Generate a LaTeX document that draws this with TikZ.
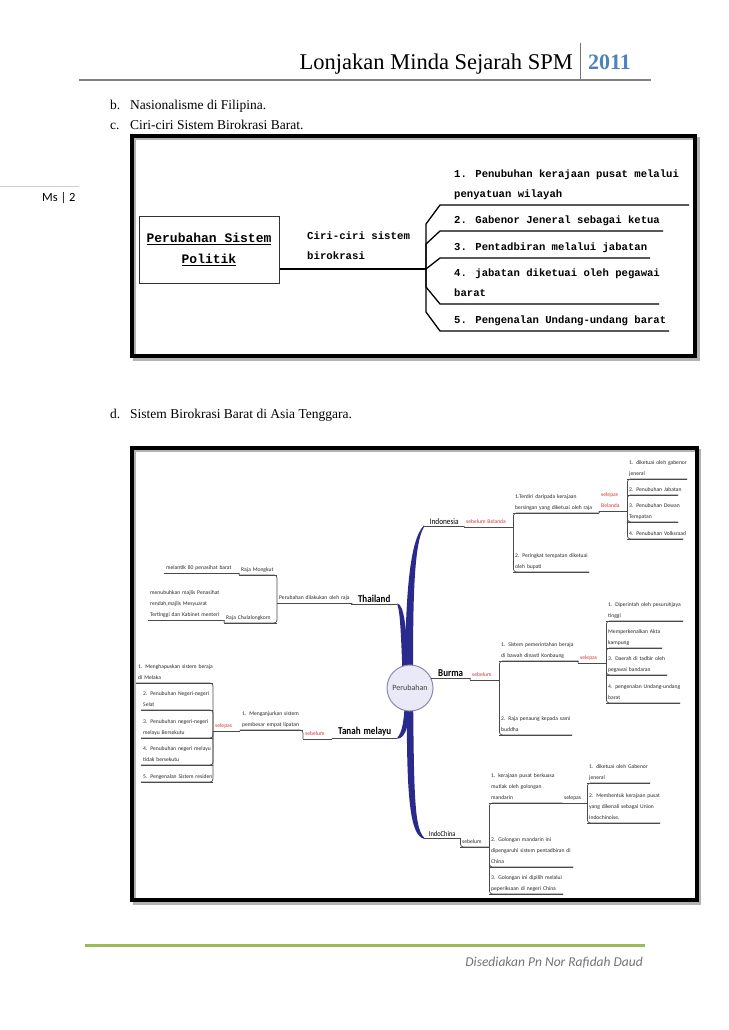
\documentclass[tikz,border=0pt]{standalone}
\usepackage{fontspec}
\setmainfont{Liberation Serif}
\newfontfamily\calfont{Carlito}
\newfontfamily\mymono{Liberation Mono}
\usetikzlibrary{calc}
\pgfdeclarelayer{bg}
\pgfsetlayers{bg,main}
\definecolor{navy}{HTML}{2A2A8C}
\definecolor{accent}{HTML}{4F81BD}
\definecolor{greenline}{HTML}{9BBB59}
\definecolor{mmred}{HTML}{D03A3A}
\definecolor{mmline}{HTML}{4A4A4A}
\definecolor{mmtext}{HTML}{2A2A2A}
\definecolor{circfill}{HTML}{E9E9F7}
\definecolor{circline}{HTML}{8A8AAE}
\newcommand\tl[1]{\noindent\begin{tabular}[b]{@{}l@{}}#1\end{tabular}}
\newcommand\tpc[1]{\noindent\scalebox{0.86}[1]{#1}}
\tikzset{
  x=1pt, y=-1pt,
  ul/.style={draw=mmline, line width=0.7pt},
  conn/.style={draw=mmline, line width=0.7pt, rounded corners=3pt},
  leaf/.style={anchor=south west, inner xsep=2pt, inner ysep=0pt, align=left,
    font=\calfont\fontsize{5.6}{11}\selectfont, text=mmtext,
    append after command={(\tikzlastnode.south west) edge[ul] (\tikzlastnode.south east)}},
  redtxt/.style={text=mmred},
  topicS/.style={leaf, align=center, text=black, inner ysep=1.5pt, font=\calfont\fontsize{8.5}{11}\selectfont},
  topicXS/.style={leaf, align=center, text=black, inner ysep=1.5pt, font=\calfont\fontsize{7.5}{11}\selectfont},
  topicB/.style={leaf, align=center, text=black, inner ysep=1.5pt, font=\calfont\bfseries\fontsize{10.5}{12}\selectfont},
  body/.style={anchor=base west, inner sep=0pt, font=\fontsize{13.5}{16}\selectfont},
  item/.style={anchor=base west, inner sep=0pt, font=\mymono\bfseries\fontsize{10.6}{20}\selectfont},
  fork/.style={draw=black, line width=1.3pt},
  frame/.style={draw=black, line width=3.5pt},
  shadow/.style={draw=black!30, line width=3pt},
}
\begin{document}
\begin{tikzpicture}
\begin{pgfonlayer}{bg}
\fill[white] (0,0) rectangle (728,1030);
\end{pgfonlayer}
\useasboundingbox (0,0) rectangle (728,1030);

% ---------- header ----------
\node[anchor=base east, inner sep=0pt, font=\fontsize{22.5}{26}\selectfont] (title) at (573,70) {Lonjakan Minda Sejarah SPM};
\node[anchor=base west, inner sep=0pt, font=\bfseries\fontsize{22}{26}\selectfont, text=accent] (year) at (588,70) {2011};
\draw[black!55, line width=1pt] (580,43) -- (580,79);
\draw[black!50, line width=2.5pt] (79,80) -- (651,80);

\node[body] (lb) at (110,110) {b.};
\node[body] (tb) at (130,110) {Nasionalisme di Filipina.};
\node[body] (lc) at (110,129) {c.};
\node[body] (tc) at (130,129) {Ciri-ciri Sistem Birokrasi Barat.};

% page number in margin
\draw[black!20, line width=0.8pt] (0,186) -- (79,186);
\node[anchor=base west, inner sep=0pt, font=\calfont\fontsize{12.5}{14}\selectfont] (pg) at (42,201) {Ms | 2};

% ---------- top diagram ----------
\draw[shadow] (134,138) rectangle (698,359);
\draw[frame] (132,136) rectangle (695,356);

\node[draw=black!80, line width=1pt, minimum width=140pt, minimum height=67pt, align=center, inner sep=0pt,
      font=\mymono\bfseries\fontsize{13}{21}\selectfont] (ps) at (209,249.5)
      {\underline{Perubahan Sistem}\\\underline{Politik}};
\node[item, font=\mymono\bfseries\fontsize{10.7}{19.5}\selectfont] (cc) at (307,259) {\tl{Ciri-ciri sistem\\birokrasi}};

\coordinate (hub) at (426,269);
\draw[fork] (ps.east |- hub) -- (hub);
\node[item] (it1) at (454,197) {\tl{1. Penubuhan kerajaan pusat melalui\\penyatuan wilayah}};
\node[item] (it2) at (454,223) {\tl{2. Gabenor Jeneral sebagai ketua}};
\node[item] (it3) at (454,250) {\tl{3. Pentadbiran melalui jabatan}};
\node[item] (it4) at (454,296) {\tl{4. jabatan diketuai oleh pegawai\\barat}};
\node[item] (it5) at (454,323) {\tl{5. Pengenalan Undang-undang barat}};
\draw[fork] (hub) -- (426,224) -- (440,205) -- (689,205);
\draw[fork] (hub) -- (426,244) -- (440,231) -- (663,231);
\draw[fork] (hub) -- (440,258) -- (650,258);
\draw[fork] (hub) -- (426,287) -- (440,304) -- (659,304);
\draw[fork] (hub) -- (426,312) -- (440,331) -- (669,331);

\node[body] (ld) at (110,418) {d.};
\node[body] (td) at (130,418) {Sistem Birokrasi Barat di Asia Tenggara.};

% ---------- mind map ----------
\draw[shadow] (134,450) rectangle (699,903);
\draw[frame] (132,448) rectangle (697,900);

\node[circle, draw=circline, line width=1pt, fill=circfill, minimum size=46pt, inner sep=0pt,
      font=\calfont\fontsize{8}{10}\selectfont, text=black!75] (root) at (410,688) {Perubahan};

% Indonesia
\node[topicS, text width=36pt] (ind) at (424,526) {\tpc{Indonesia}};
\node[leaf, redtxt, text width=45pt] (sebB) at (464,527) {\tl{sebelum Belanda}};
\node[leaf, text width=82pt] (i1) at (513,513) {\tl{1.Terdiri daripada kerajaan\\bersingan yang diketuai oleh raja}};
\node[leaf, text width=72pt] (i2) at (513,572) {\tl{2. Peringkat tempatan diketuai\\oleh bupati}};
\node[leaf, redtxt, text width=24pt] (selB) at (599,511) {\tl{selepas\\Belanda}};
\node[leaf, text width=56pt] (i11) at (627,479) {\tl{1. diketuai oleh gabenor\\jeneral}};
\node[leaf, text width=47pt] (i12) at (627,495) {\tl{2. Penubuhan Jabatan}};
\node[leaf, text width=47pt] (i13) at (627,522) {\tl{3. Penubuhan Dewan\\Tempatan}};
\node[leaf, text width=52pt] (i14) at (627,539) {\tl{4. Penubuhan Volksraad}};
\draw[conn] (ind.south east) -- (sebB.south west);
\draw[conn] (sebB.south east) |- (i1.south east);
\draw[conn] (sebB.south east) |- (i2.south east);
\draw[conn] (i1.south east) -- (selB.south west);
\foreach \n in {i11,i12,i13,i14} \draw[conn] (selB.south east) |- (\n.south east);

% Thailand
\node[topicB, text width=42pt] (th) at (351,604) {\tpc{Thailand}};
\node[leaf, text width=71pt] (pdr) at (277,603) {\tl{Perubahan dilakukan oleh raja}};
\node[leaf, text width=34pt] (rm) at (239,575) {\tl{Raja Mongkut}};
\node[leaf, text width=49pt] (rc) at (224,623) {\tl{Raja Chulalongkorn}};
\node[leaf, text width=71pt] (m80) at (164,573) {\tl{melantik 80 penasihat barat}};
\node[leaf, text width=72pt] (mmp) at (148,620) {\tl{menubuhkan majlis Penasihat\\rendah,majlis Mesyuarat\\Tertinggi dan Kabinet menteri}};
\draw[conn] (pdr.south east) -- (th.south west);
\draw[conn] (pdr.south west) |- (rm.south west);
\draw[conn] (pdr.south west) |- (rc.south west);
\draw[conn] (rm.south west) -- (m80.south east);
\draw[conn] (rc.south west) -- (mmp.south east);

% Burma
\node[topicB, text width=35pt] (bu) at (431,678) {\tpc{Burma}};
\node[leaf, redtxt, text width=25pt] (sebBu) at (470,680) {\tl{sebelum}};
\node[leaf, text width=75pt] (b1) at (499,661) {\tl{1. Sistem pemerintahan beraja\\di bawah dinasti Konbaung}};
\node[leaf, text width=69pt] (b2) at (499,735) {\tl{2. Raja penaung kepada sami\\buddha}};
\node[leaf, redtxt, text width=24pt] (selBu) at (578,663) {\tl{selepas}};
\node[leaf, text width=73pt] (b11) at (606,621) {\tl{1. Diperintah oleh pesuruhjaya\\tinggi}};
\node[leaf, text width=52pt] (b12) at (606,648) {\tl{Memperkenalkan Akta\\kampung}};
\node[leaf, text width=57pt] (b13) at (606,675) {\tl{3. Daerah di tadbir oleh\\pegawai bandaran}};
\node[leaf, text width=70pt] (b14) at (606,703) {\tl{4. pengenalan Undang-undang\\barat}};
\draw[conn] (bu.south east) -- (sebBu.south west);
\draw[conn] (sebBu.south east) |- (b1.south east);
\draw[conn] (sebBu.south east) |- (b2.south east);
\draw[conn] (b1.south east) -- (selBu.south west);
\foreach \n in {b11,b12,b13,b14} \draw[conn] (selBu.south east) |- (\n.south east);

% Tanah melayu
\node[topicB, text width=61pt] (tm) at (332,738) {\tpc{Tanah melayu}};
\node[leaf, redtxt, text width=25pt] (sebT) at (303,739) {\tl{sebelum}};
\node[leaf, text width=59pt] (ms) at (240,730) {\tl{1. Menganjurkan sistem\\pembesar empat lipatan}};
\node[leaf, redtxt, text width=23pt] (selT) at (213,731) {\tl{selepas}};
\node[leaf, text width=73pt] (t1) at (136,683) {\tl{1. Menghapuskan sistem beraja\\di Melaka}};
\node[leaf, text width=68pt] (t2) at (141,710) {\tl{2. Penubuhan Negeri-negeri\\Selat}};
\node[leaf, text width=68pt] (t3) at (141,738) {\tl{3. Penubuhan negeri-negeri\\melayu Bersekutu}};
\node[leaf, text width=68pt] (t4) at (141,765) {\tl{4. Penubuhan negeri melayu\\tidak bersekutu}};
\node[leaf, text width=68pt] (t5) at (141,782) {\tl{5. Pengenalan Sistem residen}};
\draw[conn] (tm.south west) -- (sebT.south east);
\draw[conn] (sebT.south west) |- (ms.south west);
\draw[conn] (ms.south west) -- (selT.south east);
\foreach \n in {t1,t2,t3,t4,t5} \draw[conn] (selT.south west) |- (\n.south west);

% IndoChina
\node[topicXS, text width=32pt] (ic) at (424,838) {\tpc{IndoChina}};
\node[leaf, text width=25pt] (sebIC) at (460,847) {\tl{sebelum}};
\node[leaf, text width=69pt] (c1) at (489,803) {\tl{1. kerajaan pusat berkuasa\\mutlak oleh golongan\\mandarin}};
\node[leaf, text width=80pt] (c2) at (489,867) {\tl{2. Golongan mandarin ini\\dipengaruhi sistem pentadbiran di\\China}};
\node[leaf, text width=70pt] (c3) at (489,894) {\tl{3. Golongan ini dipilih melalui\\peperiksaan di negeri China}};
\node[leaf, text width=21pt] (selIC) at (562,803) {\tl{selepas}};
\node[leaf, text width=59pt] (c11) at (587,783) {\tl{1. diketuai oleh Gabenor\\jeneral}};
\node[leaf, text width=69pt] (c12) at (587,823) {\tl{2. Membentuk kerajaan pusat\\yang dikenali sebagai Union\\Indochinoise.}};
\draw[conn] (ic.south east) |- (sebIC.south east);
\foreach \n in {c1,c2,c3} \draw[conn] (sebIC.south east) |- (\n.south east);
\draw[conn] (c1.south east) -- (selIC.south west);
\foreach \n in {c11,c12} \draw[conn] (selIC.south east) |- (\n.south east);

% main navy branches (behind the central circle)
\begin{pgfonlayer}{bg}
\fill[navy] ($(root.center)+(-5,0)$) .. controls (405,600) and (409,540) .. ($(ind.south west)+(0,-0.6)$)
   -- ($(ind.south west)+(0,0.8)$) .. controls (413,545) and (413,610) .. ($(root.center)+(3,0)$) -- cycle;
\fill[navy] ($(th.south east)+(0,-0.6)$) .. controls (404,605) and (407,625) .. ($(root.center)+(-1,0)$)
   -- ($(root.center)+(-7,0)$) .. controls (401,630) and (400,612) .. ($(th.south east)+(0,0.8)$) -- cycle;
\fill[navy] ($(root.center)+(-5,0)$) .. controls (405,720) and (402,733) .. ($(tm.south east)+(0,-0.6)$)
   -- ($(tm.south east)+(0,0.8)$) .. controls (406,738) and (410,725) .. ($(root.center)+(1,0)$) -- cycle;
\fill[navy] ($(root.center)+(-3,0)$) .. controls (406,800) and (410,835) .. ($(ic.south west)+(0,0.8)$)
   -- ($(ic.south west)+(0,-0.6)$) .. controls (414,828) and (414,790) .. ($(root.center)+(3,0)$) -- cycle;
\draw[navy, line width=1pt] (root.center) -- (bu.south west);
\end{pgfonlayer}

% ---------- footer ----------
\draw[greenline, line width=3pt] (85,945) -- (645,945);
\node[anchor=base east, inner sep=0pt, font=\calfont\itshape\fontsize{13.5}{16}\selectfont, text=black!55] (foot) at (643,966) {Disediakan Pn Nor Rafidah Daud};
\end{tikzpicture}
\end{document}
